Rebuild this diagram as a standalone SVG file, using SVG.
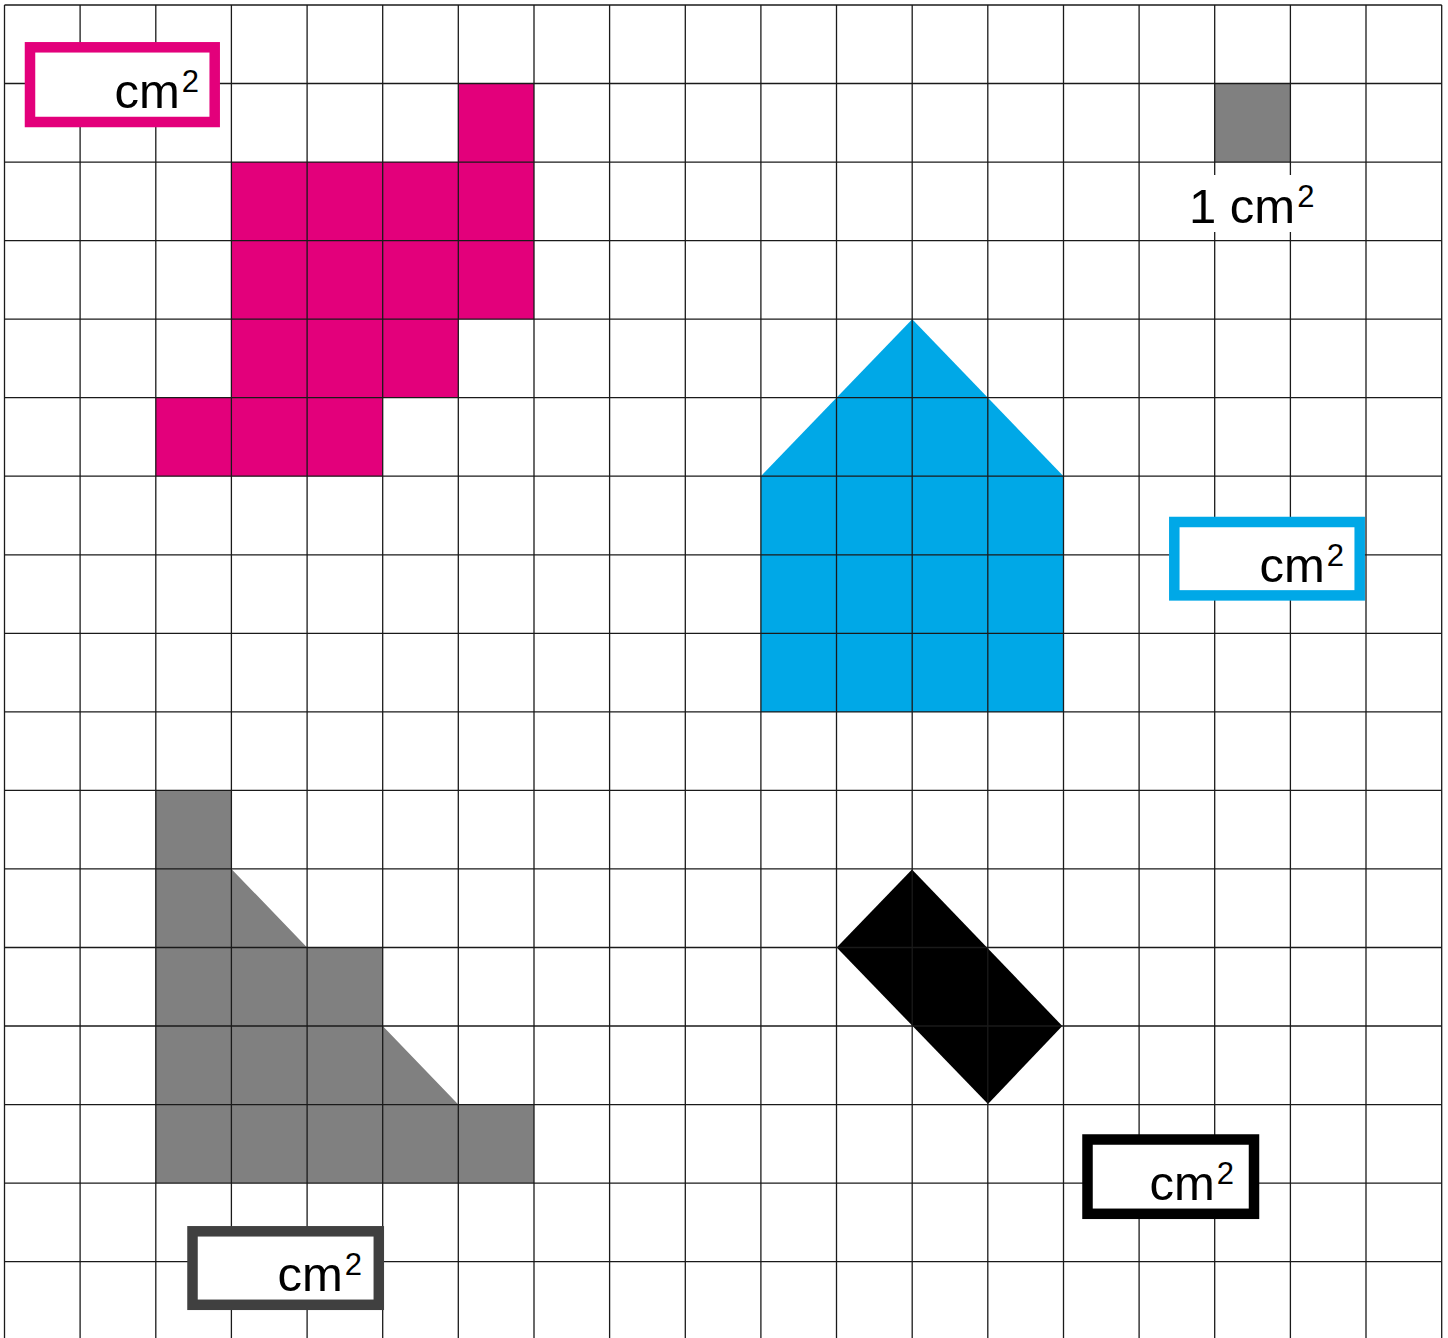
<svg xmlns="http://www.w3.org/2000/svg" width="1448" height="1338" viewBox="0 0 1448 1338">
<style>
.grid line{stroke:#1a1a1a;stroke-width:1.3}
.lbl{font-family:"Liberation Sans",Arial,sans-serif;font-size:49px;fill:#000}
.sup{font-size:31px}
.box{fill:#fff;stroke-width:10.5}
</style>
<rect width="1448" height="1338" fill="#fff"/>
<g id="shape-magenta">
<path d="M458.3,83.5H534V319.2H458.3V397.7H382.7V476.2H155.8V397.7H231.4V162.1H458.3Z" fill="#e3007b"/>
</g>
<g id="shape-blue">
<path d="M760.9,476.2L912.2,319.2L1063.5,476.2V711.9H760.9Z" fill="#00a8e7"/>
</g>
<g id="shape-gray">
<path d="M155.8,790.4H231.4V868.9L307.1,947.5H382.7V1026L458.3,1104.6H534V1183.1H155.8Z" fill="#808080"/>
</g>
<g id="shape-black">
<path d="M912,869.5L1062.3,1026L988,1104L836.7,947.5Z" fill="#000"/>
</g>
<g id="unit-square">
<rect x="1214.7" y="83.5" width="75.7" height="78.6" fill="#808080"/>
</g>
<g class="grid" id="grid">
<line x1="4.5" y1="5" x2="4.5" y2="1338"/>
<line x1="80.1" y1="5" x2="80.1" y2="1338"/>
<line x1="155.8" y1="5" x2="155.8" y2="1338"/>
<line x1="231.4" y1="5" x2="231.4" y2="1338"/>
<line x1="307.1" y1="5" x2="307.1" y2="1338"/>
<line x1="382.7" y1="5" x2="382.7" y2="1338"/>
<line x1="458.3" y1="5" x2="458.3" y2="1338"/>
<line x1="534" y1="5" x2="534" y2="1338"/>
<line x1="609.6" y1="5" x2="609.6" y2="1338"/>
<line x1="685.3" y1="5" x2="685.3" y2="1338"/>
<line x1="760.9" y1="5" x2="760.9" y2="1338"/>
<line x1="836.5" y1="5" x2="836.5" y2="1338"/>
<line x1="912.2" y1="5" x2="912.2" y2="1338"/>
<line x1="987.8" y1="5" x2="987.8" y2="1338"/>
<line x1="1063.5" y1="5" x2="1063.5" y2="1338"/>
<line x1="1139.1" y1="5" x2="1139.1" y2="1338"/>
<line x1="1214.7" y1="5" x2="1214.7" y2="1338"/>
<line x1="1290.4" y1="5" x2="1290.4" y2="1338"/>
<line x1="1366" y1="5" x2="1366" y2="1338"/>
<line x1="1441.7" y1="5" x2="1441.7" y2="1338"/>
<line x1="4.5" y1="5" x2="1441.7" y2="5"/>
<line x1="4.5" y1="83.5" x2="1441.7" y2="83.5"/>
<line x1="4.5" y1="162.1" x2="1441.7" y2="162.1"/>
<line x1="4.5" y1="240.6" x2="1441.7" y2="240.6"/>
<line x1="4.5" y1="319.2" x2="1441.7" y2="319.2"/>
<line x1="4.5" y1="397.7" x2="1441.7" y2="397.7"/>
<line x1="4.5" y1="476.2" x2="1441.7" y2="476.2"/>
<line x1="4.5" y1="554.8" x2="1441.7" y2="554.8"/>
<line x1="4.5" y1="633.3" x2="1441.7" y2="633.3"/>
<line x1="4.5" y1="711.9" x2="1441.7" y2="711.9"/>
<line x1="4.5" y1="790.4" x2="1441.7" y2="790.4"/>
<line x1="4.5" y1="868.9" x2="1441.7" y2="868.9"/>
<line x1="4.5" y1="947.5" x2="1441.7" y2="947.5"/>
<line x1="4.5" y1="1026" x2="1441.7" y2="1026"/>
<line x1="4.5" y1="1104.6" x2="1441.7" y2="1104.6"/>
<line x1="4.5" y1="1183.1" x2="1441.7" y2="1183.1"/>
<line x1="4.5" y1="1261.6" x2="1441.7" y2="1261.6"/>
</g>
<g id="unit-label">
<rect x="1182" y="175" width="136" height="57" fill="#fff"/>
<text class="lbl" x="1189" y="223">1 cm<tspan class="sup" dx="2" dy="-16">2</tspan></text>
</g>
<g id="box-magenta">
<rect class="box" x="30" y="47.3" width="184.7" height="74.7" stroke="#e3007b"/>
<text class="lbl" x="199" y="108" text-anchor="end">cm<tspan class="sup" dx="2" dy="-16">2</tspan></text>
</g>
<g id="box-blue">
<rect class="box" x="1174.3" y="522" width="185.4" height="73.4" stroke="#00a8e7"/>
<text class="lbl" x="1344" y="582" text-anchor="end">cm<tspan class="sup" dx="2" dy="-16">2</tspan></text>
</g>
<g id="box-black">
<rect class="box" x="1087.5" y="1139.5" width="166.5" height="74.3" stroke="#000"/>
<text class="lbl" x="1234" y="1200" text-anchor="end">cm<tspan class="sup" dx="2" dy="-16">2</tspan></text>
</g>
<g id="box-darkgray">
<rect class="box" x="192.5" y="1231.3" width="186.3" height="73.5" stroke="#404040"/>
<text class="lbl" x="362" y="1291" text-anchor="end">cm<tspan class="sup" dx="2" dy="-16">2</tspan></text>
</g>
</svg>
